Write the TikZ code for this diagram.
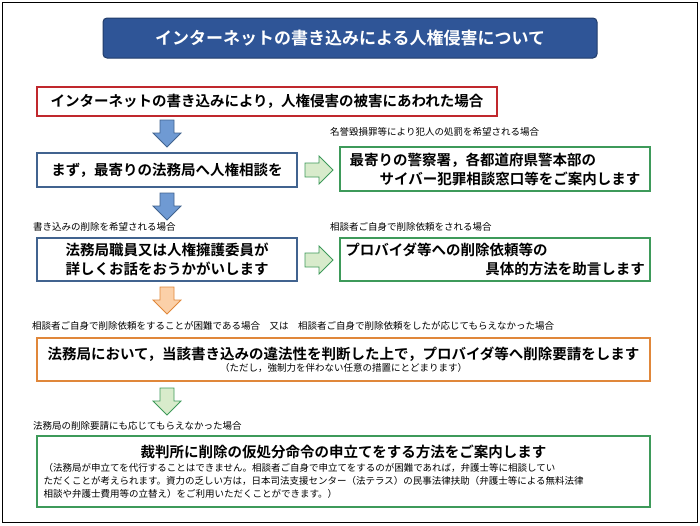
\documentclass[tikz,border=0pt]{standalone}
\usepackage{fontspec}
\setmainfont{Noto Sans CJK JP}[BoldFont={Noto Sans CJK JP Bold}]
\definecolor{titleblue}{HTML}{2F5597}
\definecolor{boxblue}{HTML}{41638F}
\definecolor{arrblue}{HTML}{6F9AD3}
\definecolor{boxgreen}{HTML}{3E9A5A}
\definecolor{arrgreen}{HTML}{D8EBCB}
\definecolor{boxorange}{HTML}{E0873A}
\definecolor{arrorange}{HTML}{FBD0A8}
\definecolor{boxred}{HTML}{C0282D}

\begin{document}
\begin{tikzpicture}[x=1pt,y=-1pt,
                    every node/.style={inner sep=0pt},
                    frame/.style={draw,line width=1.2pt,fill=white},
                    big/.style={font=\bfseries\fontsize{14.5}{19}\selectfont},
                    note/.style={font=\fontsize{9.5}{11}\selectfont,anchor=west},
                    downarr/.pic={\draw[line width=0.8pt,pic actions] (-7,0)--(7,0)--(7,13)--(14,13)--(0,27)--(-14,13)--(-7,13)--cycle;},
                    rightarr/.pic={\draw[line width=0.8pt,pic actions] (0,-7)--(14,-7)--(14,-14)--(28,0)--(14,14)--(14,7)--(0,7)--cycle;}
]
\useasboundingbox (0,0) rectangle (700,525);
\draw[line width=0.8pt] (2,2) rectangle (697,522);

% title
\node[draw=titleblue!70!black,fill=titleblue,rounded corners=4pt,line width=1pt,
      minimum width=494pt,minimum height=40pt,text=white,
      font=\bfseries\fontsize{17}{20}\selectfont] (title) at (350,38)
      {インターネットの書き込みによる人権侵害について};

% boxes
\node[frame,draw=boxred,minimum width=460pt,minimum height=29pt,big] (start) at (267,101.5)
      {インターネットの書き込みにより，人権侵害の被害にあわれた場合};
\node[frame,draw=boxblue,minimum width=260pt,minimum height=34pt,big] (soudan) at (167,170)
      {まず，最寄りの法務局へ人権相談を};
\node[frame,draw=boxgreen,minimum width=310pt,minimum height=44pt,big,align=left] (police) at (495,169)
      {最寄りの警察署，各都道府県警本部の\\\hspace*{30pt}サイバー犯罪相談窓口等をご案内します};
\node[frame,draw=boxblue,minimum width=260pt,minimum height=43pt,big,align=center] (kiku) at (167,259.5)
      {法務局職員又は人権擁護委員が\\詳しくお話をおうかがいします};
\node[frame,draw=boxgreen,minimum width=310pt,minimum height=43pt,big,align=left] (jogen) at (495,259.5)
      {プロバイダ等への削除依頼等の\\\hspace*{140pt}具体的方法を助言します};
\node[frame,draw=boxorange,minimum width=613pt,minimum height=43pt,align=center] (yousei) at (343.5,359.5)
      {{\bfseries\fontsize{14.5}{19}\selectfont 法務局において，当該書き込みの違法性を判断した上で，プロバイダ等へ削除要請をします}\\
       {\fontsize{9.5}{12}\selectfont （ただし，強制力を伴わない任意の措置にとどまります）}};
\node[frame,draw=boxgreen,minimum width=613pt,minimum height=71pt,align=left] (saiban) at (343.5,471.5)
      {\parbox{600pt}{\centering\bfseries\fontsize{14.5}{19}\selectfont 裁判所に削除の仮処分命令の申立てをする方法をご案内します\\[1pt]
       \raggedright\mdseries\fontsize{9.5}{13}\selectfont （法務局が申立てを代行することはできません。相談者ご自身で申立てをするのが困難であれば，弁護士等に相談してい\\
       ただくことが考えられます。資力の乏しい方は，日本司法支援センター（法テラス）の民事法律扶助（弁護士等による無料法律\\
       相談や弁護士費用等の立替え）をご利用いただくことができます。）}};

% notes
\node[note] (n1) at (330,132) {名誉毀損罪等により犯人の処罰を希望される場合};
\node[note] (n2) at (33,227) {書き込みの削除を希望される場合};
\node[note] (n3) at (330,227) {相談者ご自身で削除依頼をされる場合};
\node[note] (n4) at (32,326) {相談者ご自身で削除依頼をすることが困難である場合\quad 又は\quad 相談者ご自身で削除依頼をしたが応じてもらえなかった場合};
\node[note] (n5) at (33,426) {法務局の削除要請にも応じてもらえなかった場合};

% arrows
\pic[draw=boxblue,fill=arrblue] at (167,120) {downarr};
\pic[draw=boxblue,fill=arrblue] at (167,193) {downarr};
\pic[draw=boxorange,fill=arrorange] at (167,287) {downarr};
\pic[draw=boxgreen,fill=arrgreen] at (167,388) {downarr};
\pic[draw=boxgreen,fill=arrgreen] at (305,170) {rightarr};
\pic[draw=boxgreen,fill=arrgreen] at (305,260) {rightarr};

\end{tikzpicture}
\end{document}
